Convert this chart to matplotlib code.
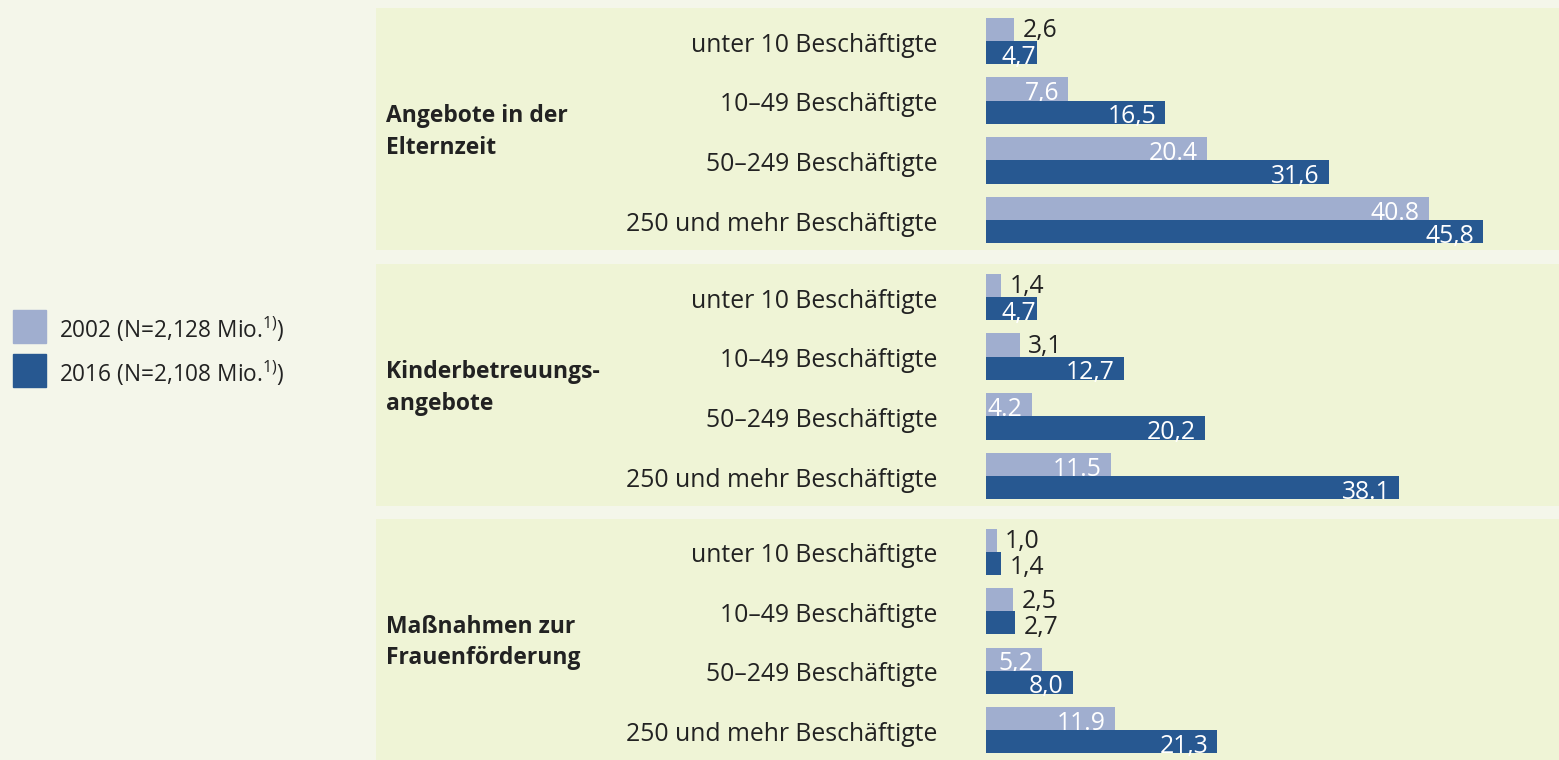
import matplotlib
matplotlib.use("Agg")
import matplotlib.pyplot as plt
from matplotlib.patches import Rectangle

plt.rcParams['font.family'] = ['Open Sans', 'DejaVu Sans']
plt.rcParams['mathtext.fontset'] = 'custom'
plt.rcParams['mathtext.rm'] = 'Open Sans'

# data
groups = ["Angebote in der\nElternzeit",
          "Kinderbetreuungs-\nangebote",
          "Maßnahmen zur\nFrauenförderung"]
sizes = ["unter 10 Beschäftigte", "10–49 Beschäftigte",
         "50–249 Beschäftigte", "250 und mehr Beschäftigte"]
vals_2002 = [[2.6, 7.6, 20.4, 40.8],
             [1.4, 3.1, 4.2, 11.5],
             [1.0, 2.5, 5.2, 11.9]]
vals_2016 = [[4.7, 16.5, 31.6, 45.8],
             [4.7, 12.7, 20.2, 38.1],
             [1.4, 2.7, 8.0, 21.3]]
# labels as printed in the source (mixed decimal marks)
labels_2002 = [["2,6", "7,6", "20.4", "40.8"],
               ["1,4", "3,1", "4.2", "11.5"],
               ["1,0", "2,5", "5,2", "11.9"]]
labels_2016 = [["4,7", "16,5", "31,6", "45,8"],
               ["4,7", "12,7", "20,2", "38.1"],
               ["1,4", "2,7", "8,0", "21,3"]]
legend_labels = ["2002 (N=2,128 Mio.$^{\\mathrm{1)}}$)",
                 "2016 (N=2,108 Mio.$^{\\mathrm{1)}}$)"]

c_light = "#a0aecf"
c_dark = "#275891"
bg_outer = "#f4f6ea"
bg_panel = "#eff4d6"
txt = "#222222"
fs = 17.8

W, H = 1559, 760
fig = plt.figure(figsize=(W / 100, H / 100), dpi=100)
fig.patch.set_facecolor(bg_outer)

px_per_unit = 10.85
x_left_px, x_zero_px = 376, 986
xlim = (-(x_zero_px - x_left_px) / px_per_unit, (W - x_zero_px) / px_per_unit)
gap = 9 / px_per_unit
bh = 0.39

panels_px = [(8, 250), (264, 506), (519, 760)]

for g in range(3):
    top, bot = panels_px[g]
    ax = fig.add_axes([x_left_px / W, 1 - bot / H, (W - x_left_px) / W, (bot - top) / H])
    ax.set_facecolor(bg_panel)
    for s in ax.spines.values():
        s.set_visible(False)
    ax.set_xticks([])
    ax.set_yticks([])
    ax.set_xlim(*xlim)
    ax.set_ylim(3.5, -0.55)

    rows = range(len(sizes))
    ax.barh([r - bh / 2 for r in rows], vals_2002[g], height=bh, left=0,
            color=c_light, zorder=2)
    for r in rows:
        v = vals_2002[g][r]
        yb = r - 0.01
        if v >= 4:
            ax.text(v - gap, yb, labels_2002[g][r], ha='right', va='baseline',
                    color='white', fontsize=fs, zorder=3)
        else:
            ax.text(v + 0.75, yb - 0.05, labels_2002[g][r], ha='left', va='baseline',
                    color=txt, fontsize=fs, zorder=3)
    ax.barh([r + bh / 2 for r in rows], vals_2016[g], height=bh, left=0,
            color=c_dark, zorder=4)
    for r in rows:
        v = vals_2016[g][r]
        yb = r + bh - 0.01
        if v >= 4:
            ax.text(v - gap if v >= 5 else v - 0.1, yb, labels_2016[g][r], ha='right',
                    va='baseline', color='white', fontsize=fs, zorder=5)
        else:
            ax.text(v + 0.75, yb, labels_2016[g][r], ha='left', va='baseline',
                    color=txt, fontsize=fs, zorder=5)
        ax.text(-4.5, r + 0.07, sizes[r], ha='right', va='center',
                color=txt, fontsize=fs)
    ax.text(10 / (W - x_left_px), 0.5 - 3 / (bot - top), groups[g],
            transform=ax.transAxes, ha='left', va='center', fontsize=16.5,
            fontweight='bold', color=txt, linespacing=1.4)

# legend
for i, (lab, col) in enumerate(zip(legend_labels, [c_light, c_dark])):
    y0 = 310 + 44 * i
    fig.add_artist(Rectangle((13 / W, 1 - (y0 + 33) / H), 33 / W, 33 / H,
                             transform=fig.transFigure, color=col))
    fig.text(59 / W, 1 - (y0 + 19) / H, lab, ha='left', va='center',
             fontsize=16.3, color=txt)

fig.savefig("out.png", dpi=100, facecolor=fig.get_facecolor())
